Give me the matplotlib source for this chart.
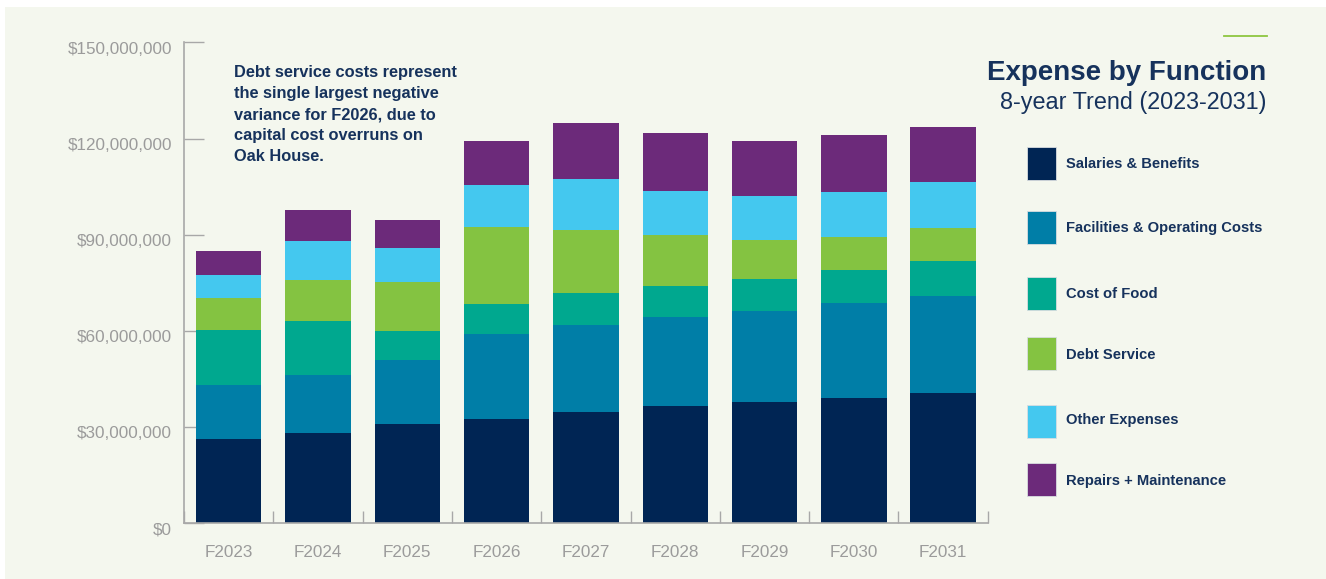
import matplotlib
matplotlib.use("Agg")
import matplotlib.pyplot as plt
import matplotlib.transforms as mtransforms
from matplotlib.patches import Rectangle
from matplotlib.lines import Line2D
import numpy as np

# ---- data ----
years = ["F2023", "F2024", "F2025", "F2026", "F2027", "F2028", "F2029", "F2030", "F2031"]
categories = ["Salaries & Benefits", "Facilities & Operating Costs", "Cost of Food",
              "Debt Service", "Other Expenses", "Repairs + Maintenance"]
salaries = [26.2, 28.0, 31.0, 32.6, 34.8, 36.4, 37.7, 39.1, 40.7]
facilities = [17.0, 18.1, 20.0, 26.4, 26.9, 28.0, 28.6, 29.6, 30.3]
food = [17.1, 17.0, 9.0, 9.5, 10.2, 9.6, 10.0, 10.4, 10.9]
debt = [9.9, 12.9, 15.1, 24.0, 19.7, 16.0, 11.9, 10.1, 10.2]
other = [7.3, 12.1, 10.9, 13.1, 15.7, 13.7, 13.8, 14.0, 14.2]
repairs = [7.5, 9.7, 8.7, 13.5, 17.5, 18.1, 17.4, 18.0, 17.3]
series = [salaries, facilities, food, debt, other, repairs]  # millions of dollars
colors = ["#002554", "#007ea7", "#00a88f", "#84c341", "#44c8ef", "#6c2a7a"]
y_ticks = [0, 30, 60, 90, 120, 150]
y_tick_labels = ["$0", "$30,000,000", "$60,000,000", "$90,000,000", "$120,000,000", "$150,000,000"]

title = "Expense by Function"
subtitle = "8-year Trend (2023-2031)"
note = ("Debt service costs represent\nthe single largest negative\n"
        "variance for F2026, due to\ncapital cost overruns on\nOak House.")

W, H = 1326, 579
NAVY_TXT = "#16325c"
GREY = "#9b9b9b"
BG = "#f4f7ee"

plt.rcParams['font.family'] = ['Liberation Sans', 'DejaVu Sans']

fig = plt.figure(figsize=(W / 100, H / 100), dpi=100)
fig.patch.set_facecolor("white")
fig.add_artist(Rectangle((5 / W, 0), 1, 1 - 7 / H, transform=fig.transFigure,
                         facecolor=BG, edgecolor="none", zorder=-10))

ax = fig.add_axes([184 / W, 56 / H, (987.8 - 184) / W, (523 - 42.5) / H])
ax.set_facecolor("none")

x = np.arange(len(years))
bottom = np.zeros(len(years))
for vals, c in zip(series, colors):
    v = np.array(vals)
    ax.bar(x, v, width=0.732, bottom=bottom, color=c, edgecolor="none", zorder=2)
    bottom += v

ax.set_xlim(-0.5, len(years) - 0.5)
ax.set_ylim(0, 150)
for s in ["top", "right"]:
    ax.spines[s].set_visible(False)
for s in ["left", "bottom"]:
    ax.spines[s].set_color("#a8a8a8")
    ax.spines[s].set_linewidth(1.2)
    ax.spines[s].set_zorder(3)

ax.set_yticks(y_ticks)
ax.set_yticklabels(y_tick_labels)
ax.tick_params(axis="y", direction="in", length=14.4, width=1, color="#a8a8a8",
               labelsize=12.3, labelcolor=GREY, pad=8.6)
offset = mtransforms.ScaledTranslation(0, -5.5 / 100, fig.dpi_scale_trans)
for lab in ax.get_yticklabels():
    lab.set_transform(lab.get_transform() + offset)

ax.set_xticks(x)
ax.set_xticklabels(years)
ax.tick_params(axis="x", which="major", length=0, labelsize=12.3, labelcolor=GREY, pad=16)
ax.set_xticks(np.arange(-0.5, len(years), 1.0), minor=True)
ax.tick_params(axis="x", which="minor", direction="in", length=8.6, width=1, color="#a8a8a8")

# annotation
fig.text(234 / W, 1 - 65 / H, note, ha="left", va="top", fontsize=11.8,
         fontweight="bold", color=NAVY_TXT, linespacing=1.5)

# title block
fig.add_artist(Line2D([1224 / W, 1267 / W], [1 - 36 / H, 1 - 36 / H],
                      transform=fig.transFigure, color="#8dc63f", lw=1.3))
fig.text(1266 / W, 1 - 80 / H, title, ha="right", va="baseline", fontsize=20,
         fontweight="bold", color=NAVY_TXT)
fig.text(1266 / W, 1 - 108.5 / H, subtitle, ha="right", va="baseline", fontsize=16.8,
         fontweight="light", color=NAVY_TXT)

# legend
row_y = [164, 228, 293, 353, 421, 479]
label_y = [164, 228, 294, 355, 420, 481]
for cat, c, yy, ly in zip(categories, colors, row_y, label_y):
    fig.add_artist(Rectangle((1027 / W, 1 - (yy + 16.5) / H), 29 / W, 33 / H,
                             transform=fig.transFigure, facecolor=c,
                             edgecolor="#d8dde0", lw=0.6))
    fig.text(1066 / W, 1 - ly / H, cat, ha="left", va="center", fontsize=10.6,
             fontweight="bold", color=NAVY_TXT)

fig.savefig("out.png", dpi=100, facecolor=fig.get_facecolor())
